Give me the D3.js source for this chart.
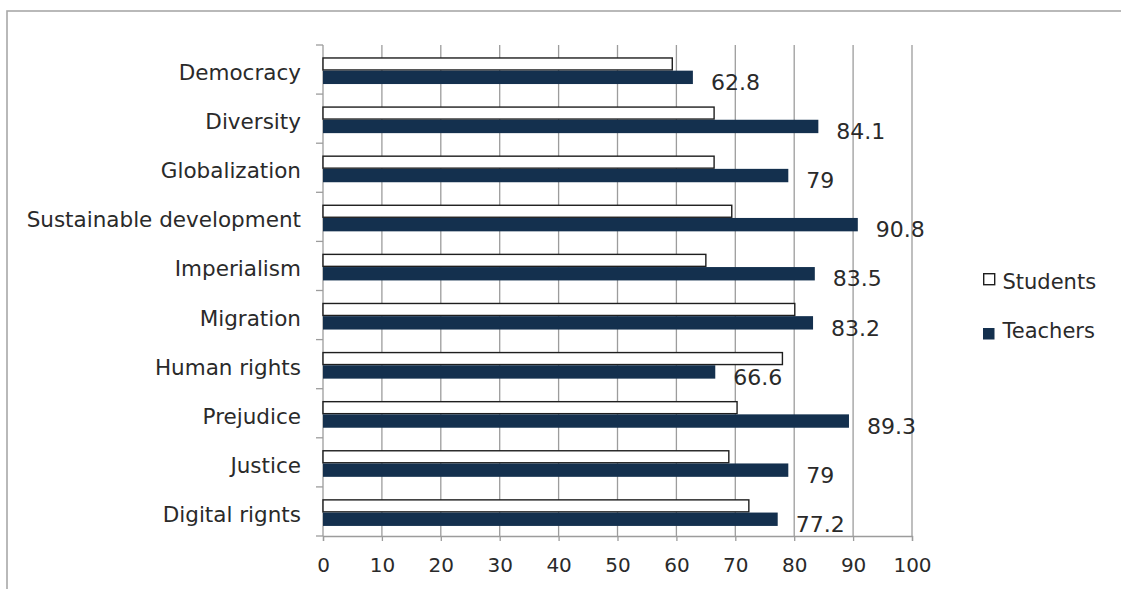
<!DOCTYPE html>
<html>
<head>
<meta charset="utf-8">
<script src="https://cdn.jsdelivr.net/npm/d3@7/dist/d3.min.js"></script>
<style>
  html, body { margin: 0; padding: 0; background: #fff; }
  svg { display: block; font-family: "DejaVu Sans", Verdana, sans-serif; }
</style>
</head>
<body>
<svg id="chart" width="1121" height="589"></svg>
<script>
// Topic areas, top to bottom
const categories = [
  "Democracy", "Diversity", "Globalization", "Sustainable development",
  "Imperialism", "Migration", "Human rights", "Prejudice", "Justice", "Digital rignts"
];
const seriesNames = ["Students", "Teachers"];
const studentValues = [59.3, 66.4, 66.4, 69.4, 65.0, 80.1, 78.0, 70.3, 68.9, 72.3];
const teacherValues = [62.8, 84.1, 79, 90.8, 83.5, 83.2, 66.6, 89.3, 79, 77.2];
const xTicks = [0, 10, 20, 30, 40, 50, 60, 70, 80, 90, 100];

const seriesColor = { Students: "#ffffff", Teachers: "#14304e" };

const svg = d3.select("#chart");

// outer frame
svg.append("rect")
  .attr("x", 7).attr("y", 11)
  .attr("width", 1300).attr("height", 1000)
  .attr("fill", "none").attr("stroke", "#a8a8a8").attr("stroke-width", 1.6);

const plot = { left: 323, right: 912, top: 45, bottom: 536 };

const x = d3.scaleLinear().domain([0, 100]).range([plot.left, plot.right]);
const y = d3.scaleBand().domain(categories).range([plot.top, plot.bottom]).padding(0);
const bw = y.bandwidth();
const ySeries = d3.scaleBand().domain(seriesNames).range([bw * 0.25, bw * 0.795]).padding(0);

// vertical gridlines
svg.append("g").selectAll("line")
  .data(xTicks.slice(1))
  .join("line")
  .attr("x1", d => x(d)).attr("x2", d => x(d))
  .attr("y1", plot.top).attr("y2", plot.bottom)
  .attr("stroke", "#9c9c9c").attr("stroke-width", 1.3);

// bottom axis
const xAxis = d3.axisBottom(x).tickValues(xTicks).tickSize(5).tickPadding(6).tickFormat(d3.format("d"));
const gx = svg.append("g").attr("transform", `translate(0,${plot.bottom})`).call(xAxis);
gx.select(".domain").attr("stroke", "#9c9c9c").attr("stroke-width", 1.3);
gx.selectAll(".tick line").attr("stroke", "#9c9c9c").attr("stroke-width", 1.3);
gx.selectAll(".tick text")
  .attr("fill", "#2a2a2a").attr("font-size", 20)
  .attr("font-family", "'DejaVu Sans', Verdana, sans-serif")
  .attr("dy", null).attr("y", 36);

// left axis: category boundary ticks
const gy = svg.append("g");
gy.append("line")
  .attr("x1", plot.left).attr("x2", plot.left)
  .attr("y1", plot.top).attr("y2", plot.bottom)
  .attr("stroke", "#9c9c9c").attr("stroke-width", 1.3);
const boundaries = categories.map(c => y(c)).concat([y(categories[categories.length - 1]) + bw]);
gy.selectAll("line.bound")
  .data(boundaries)
  .join("line").attr("class", "bound")
  .attr("x1", plot.left - 7).attr("x2", plot.left)
  .attr("y1", d => d).attr("y2", d => d)
  .attr("stroke", "#9c9c9c").attr("stroke-width", 1.3);

// category labels
gy.selectAll("text")
  .data(categories)
  .join("text")
  .attr("x", 301)
  .attr("y", d => y(d) + 35)
  .attr("text-anchor", "end")
  .attr("font-size", 21.5)
  .attr("fill", "#2a2a2a")
  .text(d => d);

// bars
const rows = categories.map((c, i) => ({
  category: c,
  values: [
    { series: "Students", value: studentValues[i] },
    { series: "Teachers", value: teacherValues[i] }
  ]
}));

const groups = svg.append("g").selectAll("g")
  .data(rows)
  .join("g")
  .attr("transform", d => `translate(0,${y(d.category)})`);

groups.selectAll("rect")
  .data(d => d.values)
  .join("rect")
  .attr("x", x(0))
  .attr("y", d => ySeries(d.series) + (d.series === "Students" ? 0.7 : 0))
  .attr("width", d => x(d.value) - x(0))
  .attr("height", d => ySeries.bandwidth() - (d.series === "Students" ? 1.4 : 0))
  .attr("fill", d => seriesColor[d.series])
  .attr("stroke", d => d.series === "Students" ? "#1e1e1e" : "none")
  .attr("stroke-width", 1.4);

// value labels for teachers
groups.append("text")
  .attr("x", d => x(d.values[1].value) + 18)
  .attr("y", 45)
  .attr("font-size", 22)
  .attr("fill", "#2a2a2a")
  .text(d => d.values[1].value);

// legend
const legend = svg.append("g").attr("transform", "translate(983,0)");
const legendRows = [
  { name: "Students", sy: 273, ty: 289 },
  { name: "Teachers", sy: 328, ty: 338 }
];
legend.selectAll("rect")
  .data(legendRows)
  .join("rect")
  .attr("x", d => d.name === "Students" ? 0.7 : 0)
  .attr("y", d => d.sy + (d.name === "Students" ? 0.7 : 0))
  .attr("width", d => d.name === "Students" ? 11 : 11.5)
  .attr("height", d => d.name === "Students" ? 11 : 11.5)
  .attr("fill", d => seriesColor[d.name])
  .attr("stroke", d => d.name === "Students" ? "#1e1e1e" : "none")
  .attr("stroke-width", 1.4);
legend.selectAll("text")
  .data(legendRows)
  .join("text")
  .attr("x", 19.5)
  .attr("y", d => d.ty)
  .attr("font-size", 21)
  .attr("fill", "#2a2a2a")
  .text(d => d.name);
</script>
</body>
</html>
